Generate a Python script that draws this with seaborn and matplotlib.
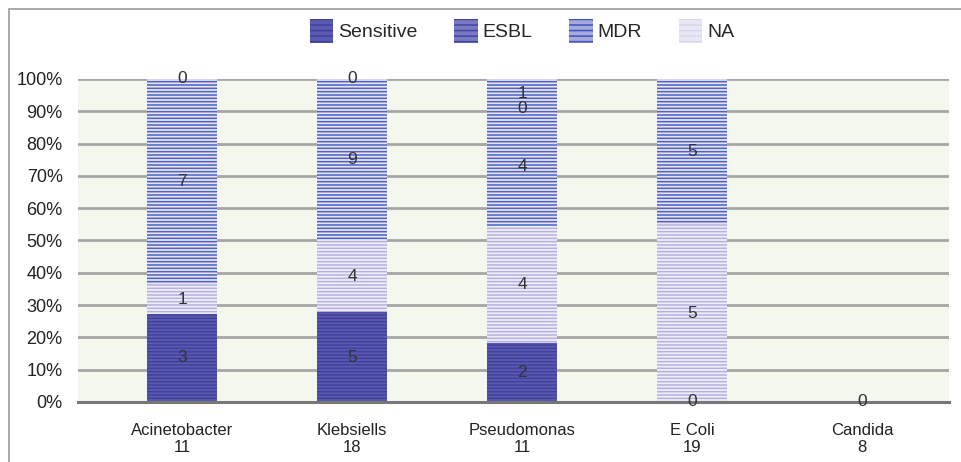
import pandas as pd
import numpy as np
import matplotlib
matplotlib.use("Agg")
import matplotlib.pyplot as plt
import seaborn as sns
from matplotlib.patches import Rectangle

# categories and totals shown under each bar
organisms = ["Acinetobacter", "Klebsiells", "Pseudomonas", "E Coli", "Candida"]
totals = [11, 18, 11, 19, 8]

# segment heights in percent, bottom to top
sensitive_pct = [27.3, 27.8, 18.2, 0, 0]
esbl_pct = [9.1, 22.2, 36.4, 55, 0]
mdr_pct = [63.6, 50.0, 36.4, 45, 0]
na_pct = [0, 0, 0, 0, 0]
extra_pct = [0, 0, 9.0, 0, 0]

# data labels printed on the segments
sensitive_lab = ["3", "5", "2", "0", "0"]
esbl_lab = ["1", "4", "4", "5", ""]
mdr_lab = ["7", "9", "4", "5", ""]
na_lab = ["0", "0", "0", "", ""]
extra_lab = ["", "", "1", "", ""]

sns.set_style("white")
plt.rcParams['font.family'] = ['Liberation Sans', 'DejaVu Sans']
plt.rcParams['hatch.linewidth'] = 1.1

layers = [
    ("Sensitive", sensitive_pct, sensitive_lab, "#5a5aae", "#4040a0"),
    ("ESBL", esbl_pct, esbl_lab, "#f1ecf7", "#b0b2e0"),
    ("MDR", mdr_pct, mdr_lab, "#f4dcef", "#3c6ac6"),
    ("NA", na_pct, na_lab, "#f4dcef", "#3c6ac6"),
    ("_extra", extra_pct, extra_lab, "#f4dcef", "#3c6ac6"),
]

df = pd.DataFrame({"organism": organisms})
cum = np.zeros(len(organisms))
bottoms = []
for name, vals, lab, fc, hc in layers:
    bottoms.append(cum.copy())
    cum = cum + np.array(vals)
    df[name] = cum

fig = plt.figure(figsize=(9.61, 4.62), dpi=100)
ax = fig.add_axes([78 / 961, 1 - 402 / 462, (949 - 78) / 961, (402 - 79) / 462])
ax.set_facecolor("#f3f7ee")

# draw cumulative bars from the top layer down so the lower ones cover them
for name, vals, lab, fc, hc in reversed(layers):
    n_before = len(ax.patches)
    sns.barplot(data=df, x="organism", y=name, ax=ax, color=fc, width=0.41,
                saturation=1, edgecolor=hc, linewidth=0, hatch="-----", zorder=3)
    for p in ax.patches[n_before:]:
        p._hatch_color = matplotlib.colors.to_rgba(hc)

# data labels at the middle of each segment
for (name, vals, lab, fc, hc), bot in zip(layers, bottoms):
    for i, (v, t) in enumerate(zip(vals, lab)):
        if t:
            ax.text(i, bot[i] + v / 2, t, ha="center", va="center",
                    fontsize=12.5, color="#333333", zorder=5, clip_on=False)

ax.set_xlim(-0.612, 4.51)
ax.set_ylim(0, 100)
ax.set_yticks(np.arange(0, 101, 10))
ax.set_yticklabels([f"{v}%" for v in range(0, 101, 10)], fontsize=13, color="#222222")
ax.set_xticks(range(len(organisms)))
ax.set_xticklabels([f"{o}\n{t}" for o, t in zip(organisms, totals)], fontsize=12,
                   color="#222222", linespacing=1.15)
ax.tick_params(axis="x", length=0, pad=15)
ax.tick_params(axis="y", length=0, pad=11)
ax.set_xlabel("")
ax.set_ylabel("")
ax.grid(axis="y", color="#a6a6a6", linewidth=2, zorder=1)
ax.set_axisbelow(True)
for s in ["top", "right", "left"]:
    ax.spines[s].set_visible(False)
ax.spines["bottom"].set_color("#777777")
ax.spines["bottom"].set_linewidth(2.2)
ax.spines["bottom"].set_zorder(4)

leg_handles = [
    Rectangle((0, 0), 1, 1, facecolor="#5a5aae", edgecolor="#4040a0", hatch="---", linewidth=0),
    Rectangle((0, 0), 1, 1, facecolor="#7a7ac2", edgecolor="#4444a4", hatch="---", linewidth=0),
    Rectangle((0, 0), 1, 1, facecolor="#a8a8da", edgecolor="#3a56c0", hatch="---", linewidth=0),
    Rectangle((0, 0), 1, 1, facecolor="#e8e8f5", edgecolor="#d6d6ee", hatch="---", linewidth=0),
]
leg = fig.legend(leg_handles, ["Sensitive", "ESBL", "MDR", "NA"], loc="center",
                 bbox_to_anchor=(522 / 961, 1 - 31 / 462), ncol=4, frameon=False,
                 fontsize=14, handlelength=1.2, handleheight=1.5, handletextpad=0.25,
                 columnspacing=1.9)

# outer frame of the picture
fig.patches.append(Rectangle((9 / 961, -0.1), 1.2, 1 - 9 / 462 + 0.1, transform=fig.transFigure,
                             fill=False, edgecolor="#9a9a9a", linewidth=1.2))

fig.savefig("out.png", dpi=100)
